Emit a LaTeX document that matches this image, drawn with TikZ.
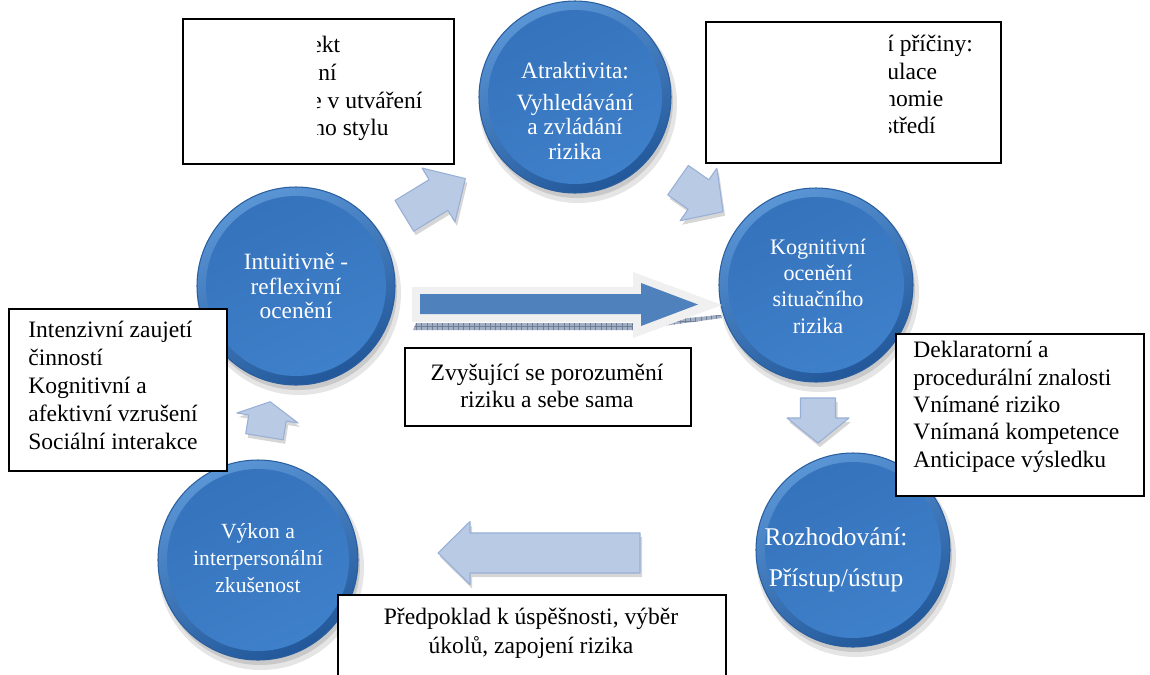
\documentclass[tikz,border=0pt]{standalone}
\usepackage{fontspec}
\setmainfont{Liberation Serif}
\usetikzlibrary{patterns}
\definecolor{ballhi}{HTML}{5A95D6}
\definecolor{balllo}{HTML}{22589A}
\definecolor{ballinlo}{HTML}{3573BC}
\definecolor{ballinhi}{HTML}{3F80CA}
\definecolor{balledge}{HTML}{2A5E9E}
\definecolor{arrfill}{HTML}{B9CAE5}
\definecolor{arredge}{HTML}{98AFD6}
\definecolor{bigblue}{HTML}{4F81BD}
\definecolor{bigrim}{HTML}{F0F0F0}
\definecolor{stripfill}{HTML}{A3AFC3}
\definecolor{stripline}{HTML}{6E7E98}

% a shaded ball: name, x, y, radius (px)
\newcommand\riskball[4]{%
  \fill[black,opacity=0.10] (#2+3,#3+7) circle[radius=#4+3];
  \fill[black,opacity=0.12] (#2+2,#3+5) circle[radius=#4];
  \shade[shading=axis,top color=ballhi,bottom color=balllo,shading angle=25]
    (#2,#3) circle[radius=#4];
  \draw[balledge,line width=0.6pt] (#2,#3) circle[radius=#4];
  \shade[shading=axis,top color=ballinlo,bottom color=ballinhi,shading angle=25]
    (#2,#3) circle[radius=#4-9];
  \node[circle,inner sep=0pt,minimum size=#4*0.04cm] (#1) at (#2,#3) {};
}
% a block arrow: x, y of the head base centre, angle, head length,
% head half-width, shaft half-width, shaft length
\newcommand\blockarrow[7]{%
  \begin{scope}[shift={(#1+2,#2+4)},rotate=#3]
    \fill[black,opacity=0.16] (-#7,-#6) -- (0,-#6) -- (0,-#5) -- (#4,0)
      -- (0,#5) -- (0,#6) -- (-#7,#6) -- cycle;
  \end{scope}
  \begin{scope}[shift={(#1,#2)},rotate=#3]
    \filldraw[fill=arrfill,draw=arredge,line width=0.6pt,line join=round]
      (-#7,-#6) -- (0,-#6) -- (0,-#5) -- (#4,0)
      -- (0,#5) -- (0,#6) -- (-#7,#6) -- cycle;
  \end{scope}
}

\begin{document}
\begin{tikzpicture}[x=0.02cm,y=-0.02cm,
  textbox/.style={draw=black,line width=1.1pt,fill=white,rectangle,
    inner sep=0pt,anchor=north west},
  bodytext/.style={inner sep=0pt,font=\fontsize{13.4}{15.9}\selectfont},
  balltext/.style={inner sep=0pt,text=white,align=center}]
\useasboundingbox (0,0) rectangle (1150,674);
\clip (0,0) rectangle (1150,674);
\fill[white] (0,0) rectangle (1150,674);

% ---- balls ----
\riskball{atr}{575}{97}{96}
\riskball{intu}{296}{286}{99}
\riskball{kog}{816}{285}{97}
\riskball{roz}{853}{550}{97}
\riskball{vyk}{258}{560}{100}

\node[balltext,font=\fontsize{13.3}{14.2}\selectfont] (atrt) at (575,111)
  {Atraktivita:\\[4pt]Vyhledávání\\a zvládání\\rizika};
\node[balltext,font=\fontsize{13.3}{14}\selectfont] (intut) at (296,286)
  {Intuitivně -\\reflexivní\\ocenění};
\node[balltext,font=\fontsize{12.6}{15}\selectfont] (kogt) at (818,286)
  {Kognitivní\\ocenění\\situačního\\rizika};
\node[balltext,font=\fontsize{14.5}{15}\selectfont] (rozt) at (836,560)
  {Rozhodování:\\[8pt]Přístup/ústup};
\node[balltext,font=\fontsize{12.3}{15.6}\selectfont] (vykt) at (258,558)
  {Výkon a\\interpersonální\\zkušenost};

% ---- small block arrows round the cycle ----
\blockarrow{438.5}{195}{31.4}{31.5}{31.6}{18}{40}
\blockarrow{698.5}{194.5}{-35}{30}{32}{18}{25}
\blockarrow{818}{418}{-90}{25}{31}{17.5}{20}
\blockarrow{470}{553}{180}{32}{31.5}{20}{170}
\blockarrow{267.5}{418}{80.7}{16.5}{31}{19}{19}

% ---- large arrow across the middle ----
\path[pattern=grid,pattern color=stripline,preaction={fill=stripfill}]
  (413,330) -- (416,323) -- (633,323) -- (721,315) -- (722,318)
  -- (633,330) -- cycle;
\fill[bigrim] (412,287) -- (633,287) -- (633,272) -- (722,305)
  -- (633,338) -- (633,322) -- (412,322) -- cycle;
\fill[bigblue] (420,294) -- (641,294) -- (641,283) -- (698,304.5)
  -- (641,326) -- (641,314) -- (420,314) -- cycle;

% ---- text boxes ----
\node[textbox,minimum width=5.42cm,minimum height=2.9cm] (tlbox) at (182,18) {};
\begin{scope}
  \clip (317,20) rectangle (452,161);
  \node[bodytext,anchor=base west] (tl1) at (311,52) {ekt};
  \node[bodytext,anchor=base west] (tl2) at (318,80) {ní};
  \node[bodytext,anchor=base west] (tl3) at (311,108) {e v utváření};
  \node[bodytext,anchor=base west] (tl4) at (313,135) {ho stylu};
\end{scope}

\node[textbox,minimum width=5.9cm,minimum height=2.82cm] (trbox) at (705,21) {};
\begin{scope}
  \clip (889,23) rectangle (999,160);
  \node[bodytext,anchor=base west] (tr1) at (887,51) {í příčiny:};
  \node[bodytext,anchor=base west] (tr2) at (887,79) {ulace};
  \node[bodytext,anchor=base west] (tr3) at (884,106) {nomie};
  \node[bodytext,anchor=base west] (tr4) at (883,133) {středí};
\end{scope}

\node[textbox,minimum width=4.36cm,minimum height=3.24cm] (lbox) at (8,308) {};
\node[bodytext,align=left,anchor=north west] (ltext) at (28,321)
  {Intenzivní zaujetí\\činností\\Kognitivní a\\afektivní vzrušení\\Sociální interakce};

\node[textbox,minimum width=5.72cm,minimum height=1.56cm] (mbox) at (404,347) {};
\node[bodytext,align=center,font=\fontsize{13.4}{15.3}\selectfont] (mtext) at (547,386)
  {Zvyšující se porozumění\\riziku a sebe sama};

\node[textbox,minimum width=4.96cm,minimum height=3.24cm] (rbox) at (895,333) {};
\node[bodytext,align=left,anchor=north west,font=\fontsize{13.4}{15.6}\selectfont] (rtext) at (913,341)
  {Deklaratorní a\\procedurální znalosti\\Vnímané riziko\\Vnímaná kompetence\\Anticipace výsledku};

\node[textbox,minimum width=7.76cm,minimum height=1.8cm] (bbox) at (337,594) {};
\node[bodytext,align=center,font=\fontsize{13.4}{16.5}\selectfont] (btext) at (531,633)
  {Předpoklad k úspěšnosti, výběr\\úkolů, zapojení rizika};
\end{tikzpicture}
\end{document}
